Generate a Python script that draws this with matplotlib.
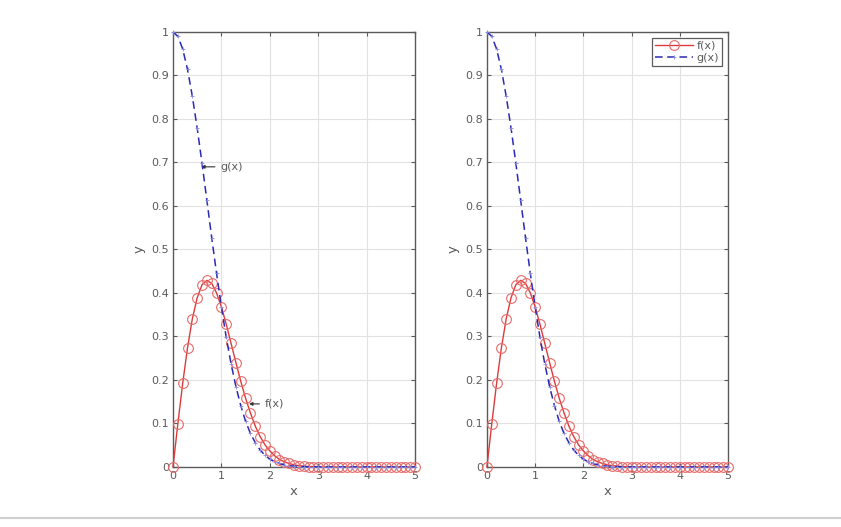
import matplotlib
matplotlib.use('Agg')
import matplotlib.pyplot as plt
from matplotlib.lines import Line2D

x = [0.0, 0.1, 0.2, 0.3, 0.4, 0.5, 0.6, 0.7, 0.8, 0.9,
     1.0, 1.1, 1.2, 1.3, 1.4, 1.5, 1.6, 1.7, 1.8, 1.9,
     2.0, 2.1, 2.2, 2.3, 2.4, 2.5, 2.6, 2.7, 2.8, 2.9,
     3.0, 3.1, 3.2, 3.3, 3.4, 3.5, 3.6, 3.7, 3.8, 3.9,
     4.0, 4.1, 4.2, 4.3, 4.4, 4.5, 4.6, 4.7, 4.8, 4.9, 5.0]

f_vals = [0.0, 0.099, 0.192, 0.274, 0.341, 0.389, 0.419, 0.429, 0.422, 0.400,
          0.368, 0.328, 0.284, 0.240, 0.197, 0.158, 0.124, 0.094, 0.070, 0.051,
          0.037, 0.026, 0.017, 0.012, 0.008, 0.005, 0.003, 0.002, 0.001, 0.001,
          0.0, 0.0, 0.0, 0.0, 0.0, 0.0, 0.0, 0.0, 0.0, 0.0,
          0.0, 0.0, 0.0, 0.0, 0.0, 0.0, 0.0, 0.0, 0.0, 0.0, 0.0]

g_vals = [1.0, 0.990, 0.961, 0.914, 0.852, 0.779, 0.698, 0.613, 0.527, 0.445,
          0.368, 0.298, 0.237, 0.185, 0.141, 0.105, 0.077, 0.056, 0.039, 0.027,
          0.018, 0.012, 0.008, 0.005, 0.003, 0.002, 0.001, 0.001, 0.0, 0.0,
          0.0, 0.0, 0.0, 0.0, 0.0, 0.0, 0.0, 0.0, 0.0, 0.0,
          0.0, 0.0, 0.0, 0.0, 0.0, 0.0, 0.0, 0.0, 0.0, 0.0, 0.0]

x_ticks = [0, 1, 2, 3, 4, 5]
y_ticks = [0, 0.1, 0.2, 0.3, 0.4, 0.5, 0.6, 0.7, 0.8, 0.9, 1]
y_tick_labels = ['0', '0.1', '0.2', '0.3', '0.4', '0.5', '0.6', '0.7', '0.8', '0.9', '1']

red = '#dd3b3b'
blue = '#2a2ab5'
gray = '#5a5a5a'

plt.rcParams['font.family'] = ['DejaVu Sans']

fig = plt.figure(figsize=(8.41, 5.27), dpi=100)
ax1 = fig.add_axes([0.2057, 0.1139, 0.2878, 0.8254])
ax2 = fig.add_axes([0.5790, 0.1139, 0.2866, 0.8254])


def style_axes(ax):
    ax.set_xlim(0, 5)
    ax.set_ylim(0, 1)
    ax.set_xticks(x_ticks)
    ax.set_yticks(y_ticks)
    ax.set_yticklabels(y_tick_labels)
    ax.grid(True, color='#e2e2e2', linewidth=0.8)
    ax.set_axisbelow(True)
    ax.tick_params(direction='in', length=3, width=0.8, colors=gray,
                   labelsize=8, top=True, right=True, pad=3)
    for s in ax.spines.values():
        s.set_color(gray)
        s.set_linewidth(1.0)
    ax.set_xlabel('x', color=gray, fontsize=9.5, labelpad=3)
    ax.set_ylabel('y', color=gray, fontsize=9.5, labelpad=4)


def draw_curves(ax):
    lf, = ax.plot(x, f_vals, color=red, linewidth=1.0, marker='o',
                  markersize=7, markerfacecolor='none',
                  markeredgecolor='#e86a6a', markeredgewidth=0.8,
                  label='f(x)', clip_on=False, zorder=3)
    lg, = ax.plot(x, g_vals, color=blue, linewidth=1.1, linestyle=(0, (5, 3)),
                  marker='+', markersize=3.5, markeredgecolor='#8a8ae0',
                  markeredgewidth=0.6, label='g(x)', clip_on=False, zorder=4)
    return lf, lg


style_axes(ax1)
draw_curves(ax1)
ax1.annotate('g(x)', xy=(0.58, 0.69), xytext=(0.98, 0.69),
             fontsize=8, color=gray, va='center',
             arrowprops=dict(arrowstyle='-|>', color='#333333',
                             linewidth=0.8, mutation_scale=5,
                             shrinkA=2, shrinkB=0))
ax1.annotate('f(x)', xy=(1.57, 0.145), xytext=(1.9, 0.145),
             fontsize=8, color=gray, va='center',
             arrowprops=dict(arrowstyle='-|>', color='#333333',
                             linewidth=0.8, mutation_scale=5,
                             shrinkA=2, shrinkB=0))

style_axes(ax2)
draw_curves(ax2)
leg = ax2.legend(loc='upper right', fontsize=8, frameon=True,
                 fancybox=False, borderpad=0.3, handlelength=3.4,
                 handletextpad=0.3, labelspacing=0.15,
                 borderaxespad=0.5)
leg.get_frame().set_edgecolor('#333333')
leg.get_frame().set_linewidth(0.9)
for t in leg.get_texts():
    t.set_color(gray)

# frame line at the bottom of the picture
fig.add_artist(Line2D([0, 1], [0.017, 0.017], transform=fig.transFigure,
                      color='#cfcfcf', linewidth=1.5))

fig.savefig('out.png', dpi=100)
